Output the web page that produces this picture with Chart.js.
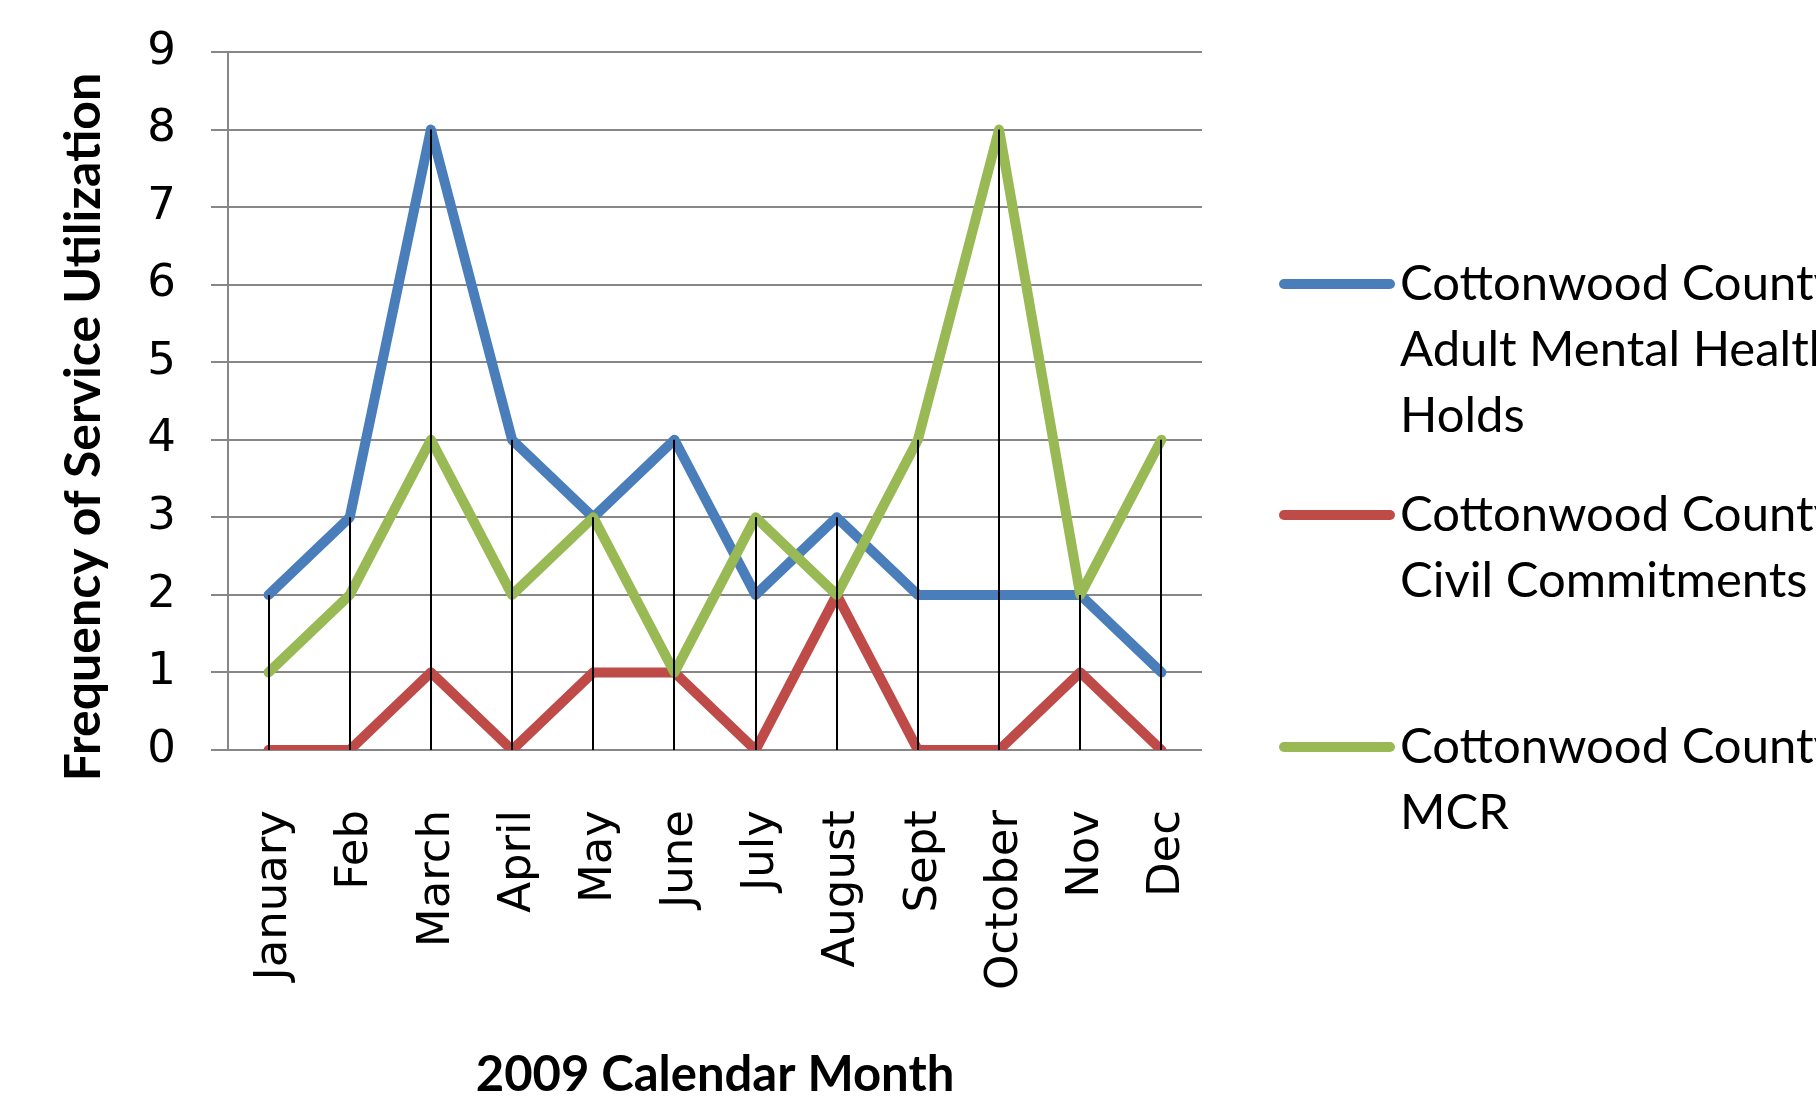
<!DOCTYPE html>
<html>
<head>
<meta charset="utf-8">
<script src="https://cdn.jsdelivr.net/npm/chart.js@4.4.1/dist/chart.umd.min.js"></script>
<style>
    html, body { margin: 0; padding: 0; background: #fff; }
    canvas { display: block; }
</style>
</head>
<body>
<canvas id="chart" width="1816" height="1107"></canvas>
<script>
const months = ['January', 'Feb', 'March', 'April', 'May', 'June', 'July', 'August', 'Sept', 'October', 'Nov', 'Dec'];
const holds = [2, 3, 8, 4, 3, 4, 2, 3, 2, 2, 2, 1];
const commitments = [0, 0, 1, 0, 1, 1, 0, 2, 0, 0, 1, 0];
const mcr = [1, 2, 4, 2, 3, 1, 3, 2, 4, 8, 2, 4];

const seriesNames = [
    'Cottonwood County Adult Mental Health Holds',
    'Cottonwood County Civil Commitments',
    'Cottonwood County MCR'
];
const legendLines = [
    ['Cottonwood County', 'Adult Mental Health', 'Holds'],
    ['Cottonwood County', 'Civil Commitments'],
    ['Cottonwood County', 'MCR']
];
const yTitle = 'Frequency of Service Utilization';
const xTitle = '2009 Calendar Month';

const colors = ['#4A7EBB', '#BE4B48', '#98B954'];
const gridColor = '#878787';

// Excel-style drop lines: from the highest point of each month down to 0
const dropLines = {
    id: 'dropLines',
    afterDatasetsDraw(chart) {
        const { ctx, scales: { x, y } } = chart;
        ctx.save();
        ctx.strokeStyle = '#000';
        ctx.lineWidth = 2;
        months.forEach((m, i) => {
            const top = Math.max(holds[i], commitments[i], mcr[i]);
            const px = Math.round(x.getPixelForValue(i));
            ctx.beginPath();
            ctx.moveTo(px, y.getPixelForValue(top));
            ctx.lineTo(px, y.getPixelForValue(0));
            ctx.stroke();
        });
        ctx.restore();
    }
};

// side legend with wrapped labels, cut off by the canvas edge like the original
const sideLegend = {
    id: 'sideLegend',
    afterDraw(chart) {
        const ctx = chart.ctx;
        const entryY = [284, 515, 747];
        const lineGap = 66;
        ctx.save();
        ctx.font = '49px Lato';
        ctx.fillStyle = '#000';
        ctx.textAlign = 'left';
        ctx.textBaseline = 'middle';
        legendLines.forEach((lines, i) => {
            ctx.strokeStyle = colors[i];
            ctx.lineWidth = 10;
            ctx.lineCap = 'round';
            ctx.beginPath();
            ctx.moveTo(1284, entryY[i]);
            ctx.lineTo(1390, entryY[i]);
            ctx.stroke();
            lines.forEach((t, j) => ctx.fillText(t, 1400, entryY[i] + j * lineGap));
        });

        // y axis title
        ctx.translate(84, 427);
        ctx.rotate(-Math.PI / 2);
        ctx.font = 'bold 50px Lato';
        ctx.textAlign = 'center';
        ctx.fillText(yTitle, 0, 0);
        ctx.restore();
    }
};

const tickFont = { family: 'DejaVu Sans', size: 45 };

function lineSet(label, data, color, order) {
    return {
        label: label,
        data: data,
        borderColor: color,
        backgroundColor: color,
        borderWidth: 10,
        borderJoinStyle: 'round',
        borderCapStyle: 'round',
        pointRadius: 0,
        tension: 0,
        order: order
    };
}

new Chart(document.getElementById('chart'), {
    type: 'line',
    data: {
        labels: months,
        datasets: [
            lineSet(seriesNames[0], holds, colors[0], 3),
            lineSet(seriesNames[1], commitments, colors[1], 2),
            lineSet(seriesNames[2], mcr, colors[2], 1)
        ]
    },
    options: {
        responsive: false,
        animation: false,
        devicePixelRatio: 1,
        layout: { padding: { left: 0, right: 614, top: 52, bottom: 0 } },
        plugins: {
            legend: { display: false },
            tooltip: { enabled: false }
        },
        scales: {
            x: {
                offset: true,
                grid: { display: false, drawTicks: false },
                border: { display: false },
                ticks: {
                    autoSkip: false,
                    minRotation: 90,
                    maxRotation: 90,
                    padding: 60,
                    labelOffset: 6,
                    color: '#000',
                    font: tickFont
                },
                title: {
                    display: true,
                    text: xTitle,
                    color: '#000',
                    font: { family: 'Lato', weight: 'bold', size: 49, lineHeight: 1.2 },
                    padding: { top: 0, bottom: 2 }
                },
                afterFit(scale) {
                    scale.height = 357;
                    scale.paddingLeft = 0;
                    scale.paddingRight = 0;
                }
            },
            y: {
                min: 0,
                max: 9,
                ticks: { stepSize: 1, padding: 35, color: '#000', font: tickFont },
                grid: { color: gridColor, lineWidth: 2, tickLength: 17 },
                border: { display: true, color: gridColor, width: 2 },
                afterFit(scale) {
                    scale.width = 228;
                    scale.paddingTop = 0;
                    scale.paddingBottom = 0;
                }
            }
        }
    },
    plugins: [dropLines, sideLegend]
});
</script>
</body>
</html>
